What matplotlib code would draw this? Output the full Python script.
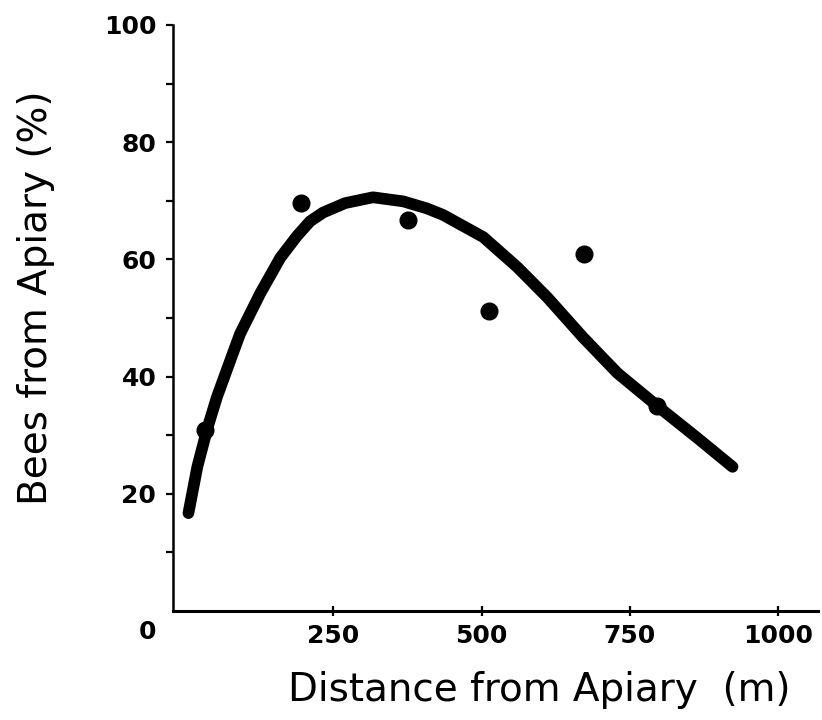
import matplotlib
matplotlib.use("Agg")
import matplotlib.pyplot as plt

# observed points
dist_obs = [34, 195, 376, 513, 673, 796]
bees_obs = [30.9, 69.7, 66.7, 51.2, 61.0, 35.0]

# fitted curve
dist_fit = [6, 21, 38, 54, 81, 93, 127, 161, 189, 211, 233, 270, 317, 368,
            408, 435, 503, 560, 611, 671, 729, 796, 864, 923]
bees_fit = [16.7, 24.6, 31.2, 36.5, 44.0, 47.3, 54.2, 60.3, 64.0, 66.5,
            68.0, 69.6, 70.6, 69.9, 68.7, 67.6, 63.8, 58.7, 53.5, 46.7,
            40.6, 35.0, 29.5, 24.6]

x_ticks = [250, 500, 750, 1000]
y_ticks = [20, 40, 60, 80, 100]
y_minor = [10, 30, 50, 70, 90]

fig = plt.figure(figsize=(8.22, 7.2), dpi=100)
ax = fig.add_axes([173 / 822, 1 - 611 / 720, 645 / 822, 586 / 720])

ax.plot(dist_fit, bees_fit, color="black", lw=8.4, solid_capstyle="round",
        solid_joinstyle="round")
ax.plot(dist_obs, bees_obs, "o", color="black", ms=12)

ax.set_xlim(-20, 1067)
ax.set_ylim(0, 100)

for s in ["top", "right"]:
    ax.spines[s].set_visible(False)
ax.spines["left"].set_linewidth(1.8)
ax.spines["bottom"].set_linewidth(2.2)

ax.set_xticks(x_ticks)
ax.set_xticklabels([str(v) for v in x_ticks])
ax.set_yticks(y_ticks)
ax.set_yticks(y_minor, minor=True)
ax.tick_params(axis="x", direction="inout", length=7, width=1.6, pad=6,
               labelsize=18)
ax.tick_params(axis="y", which="both", direction="out", length=5, width=1.6,
               pad=7, labelsize=18)
for lab in ax.get_xticklabels() + ax.get_yticklabels():
    lab.set_fontweight("bold")

# origin label
ax.text(-0.04, -0.035, "0", transform=ax.transAxes, ha="center", va="center",
        fontsize=18, fontweight="bold")

ax.set_xlabel("Distance from Apiary  (m)", fontsize=28, va="center")
ax.xaxis.set_label_coords(0.568, -0.135)
ax.set_ylabel("Bees from Apiary (%)", fontsize=28, va="center")
ax.yaxis.set_label_coords(-0.212, 0.534)

fig.savefig("out.png", dpi=100)
